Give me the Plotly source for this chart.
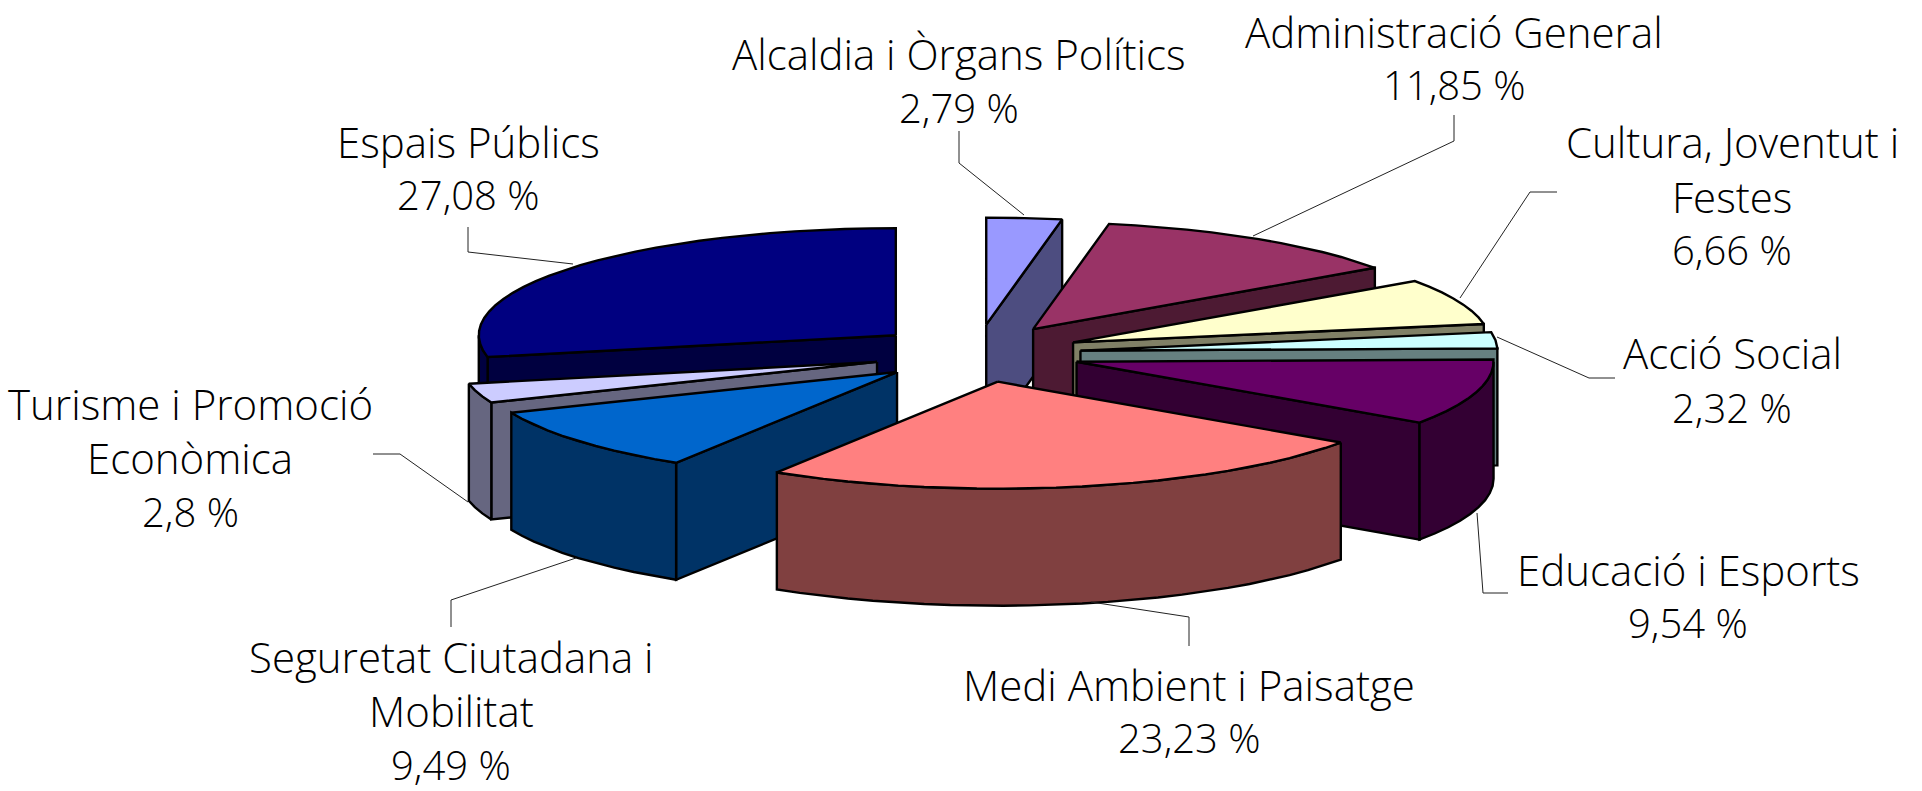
import numpy as np
import plotly.graph_objects as go

# ---- data ----
categories = ["Alcaldia i Òrgans Polítics", "Administració General", "Cultura, Joventut i Festes",
              "Acció Social", "Educació i Esports", "Medi Ambient i Paisatge",
              "Seguretat Ciutadana i Mobilitat", "Turisme i Promoció Econòmica", "Espais Públics"]
values = [2.79, 11.85, 6.66, 2.32, 9.54, 23.23, 9.49, 2.8, 27.08]
value_labels = ["2,79 %", "11,85 %", "6,66 %", "2,32 %", "9,54 %", "23,23 %", "9,49 %", "2,8 %", "27,08 %"]
label_lines = [["Alcaldia i Òrgans Polítics"], ["Administració General"], ["Cultura, Joventut i", "Festes"],
               ["Acció Social"], ["Educació i Esports"], ["Medi Ambient i Paisatge"],
               ["Seguretat Ciutadana i", "Mobilitat"], ["Turisme i Promoció", "Econòmica"], ["Espais Públics"]]

# ---- styling ----
top_colors = ["#9999FF", "#993366", "#FFFFCC", "#CCFFFF", "#660066", "#FF8080", "#0066CC", "#CCCCFF", "#000080"]
side_colors = ["#4D4D80", "#4D1A33", "#808066", "#668080", "#330033", "#804040", "#003366", "#666680", "#000040"]
NAME_FONT = dict(family="Open Sans", size=42, color="#000000", weight=300)
VALUE_FONT = dict(family="Open Sans", size=40, color="#000000", weight=300)

# ---- layout of the pie (screen pixels on the axes) ----
CX, CY, RX, RY, DEPTH = 976.7, 353.4, 417.0, 107.0, 117.0
EXPLODE_X, EXPLODE_Y = 0.25, 0.27
ARC_STEP = 3.5
label_x = [958.6, 1454, 1732, 1732, 1688, 1189, 451, 190, 468]
label_y = [[53, 107], [31, 84], [141, 196, 249], [352, 407], [569, 622], [684, 737],
           [656, 710, 764], [403, 457, 511], [141, 194]]
leaders = [[(959, 131), (959, 163), (1024, 215)], [(1454, 115), (1454, 141), (1253, 236)],
           [(1557, 192), (1530, 192), (1460, 298)], [(1615, 378), (1589, 378), (1497, 337)],
           [(1508, 593), (1483, 593), (1477, 513)], [(1189, 646), (1189, 617), (1091, 602)],
           [(451, 627), (451, 600), (576, 558)], [(373, 454), (400, 454), (468, 502)],
           [(468, 227), (468, 252), (573, 264)]]

fractions = np.array(values) / sum(values) * 360.0
ends = np.cumsum(fractions)
starts = ends - fractions
paint_order = [8, 0, 1, 2, 3, 7, 4, 6, 5]


def rim(apex, deg):
    r = np.radians(deg)
    return apex[0] + RX * np.sin(r), apex[1] - RY * np.cos(r)


fig = go.Figure()


def poly(xs, ys, color, name):
    fig.add_trace(go.Scatter(x=list(xs), y=list(ys), mode="lines", fill="toself", fillcolor=color,
                             line=dict(color="#000000", width=2.4), hoverinfo="skip",
                             showlegend=False, name=name))


for i in paint_order:
    a, b = starts[i], ends[i]
    mid = np.radians((a + b) / 2)
    apex = (CX + EXPLODE_X * RX * np.sin(mid), CY - EXPLODE_Y * RY * np.cos(mid))
    name = categories[i]
    # radial walls turned toward the viewer
    if np.sin(np.radians(b)) > 1e-6:
        x, y = rim(apex, b)
        poly([apex[0], x, x, apex[0], apex[0]], [apex[1], y, y + DEPTH, apex[1] + DEPTH, apex[1]],
             side_colors[i], name)
    if np.sin(np.radians(a)) < -1e-6:
        x, y = rim(apex, a)
        poly([apex[0], x, x, apex[0], apex[0]], [apex[1], y, y + DEPTH, apex[1] + DEPTH, apex[1]],
             side_colors[i], name)
    # outer wall (front half of the rim only)
    lo, hi = max(a, 90.0), min(b, 270.0)
    if hi > lo:
        t = np.linspace(lo, hi, max(2, int((hi - lo) / ARC_STEP) + 1))
        x, y = rim(apex, t)
        poly(np.r_[x, x[::-1], x[0]], np.r_[y, y[::-1] + DEPTH, y[0]], side_colors[i], name)
    # top face
    t = np.linspace(a, b, max(2, int((b - a) / ARC_STEP) + 1))
    x, y = rim(apex, t)
    poly(np.r_[apex[0], x, apex[0]], np.r_[apex[1], y, apex[1]], top_colors[i], name)

for pts in leaders:
    fig.add_trace(go.Scatter(x=[p[0] for p in pts], y=[p[1] for p in pts], mode="lines",
                             line=dict(color="#222222", width=1), hoverinfo="skip", showlegend=False))

for i, lines in enumerate(label_lines):
    for text, y in zip(lines, label_y[i]):
        fig.add_annotation(x=label_x[i], y=y, text=text, showarrow=False, font=NAME_FONT,
                           xanchor="center", yanchor="middle", borderpad=0)
    fig.add_annotation(x=label_x[i], y=label_y[i][-1], text=value_labels[i], showarrow=False, font=VALUE_FONT,
                       xanchor="center", yanchor="middle", borderpad=0)

fig.update_layout(width=1922, height=791, margin=dict(l=0, r=0, t=0, b=0),
                  paper_bgcolor="#FFFFFF", plot_bgcolor="#FFFFFF", showlegend=False)
fig.update_xaxes(range=[0, 1922], visible=False, fixedrange=True)
fig.update_yaxes(range=[791, 0], visible=False, fixedrange=True)
fig.write_html("out.html", config=dict(displayModeBar=False),
               post_script="document.body.style.margin='0';document.body.style.overflow='hidden';")
